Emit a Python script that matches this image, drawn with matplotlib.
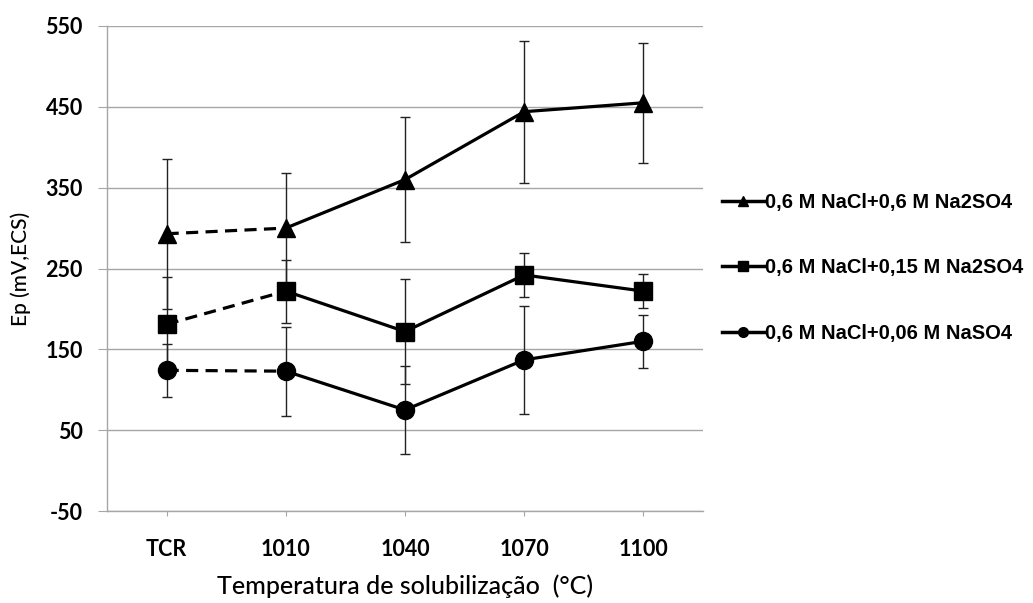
import matplotlib
matplotlib.use('Agg')
import matplotlib.pyplot as plt
from matplotlib.lines import Line2D

plt.rcParams['axes.unicode_minus'] = False

# categorias (temperatura de solubilizacao)
categorias = ['TCR', '1010', '1040', '1070', '1100']

# 0,6 M NaCl+0,6 M Na2SO4
ep_tri = [293, 300, 360, 444, 455]
err_tri = [93, 68, 77, 88, 74]

# 0,6 M NaCl+0,15 M Na2SO4
ep_sq = [181, 222, 172, 242, 222]
err_sq = [59, 39, 65, 27, 21]

# 0,6 M NaCl+0,06 M NaSO4
ep_circ = [124, 123, 75, 137, 160]
err_circ = [33, 55, 55, 67, 33]

nomes = ['0,6 M NaCl+0,6 M Na2SO4', '0,6 M NaCl+0,15 M Na2SO4', '0,6 M NaCl+0,06 M NaSO4']
marcadores = ['^', 's', 'o']

fig = plt.figure(figsize=(10.33, 6.03), dpi=100)
ax = fig.add_axes([107/1033, 1 - 511/603, (703 - 107)/1033, (511 - 26)/603])

x = list(range(len(categorias)))
series = [(ep_tri, err_tri), (ep_sq, err_sq), (ep_circ, err_circ)]

for (ep, err), mk in zip(series, marcadores):
    ax.errorbar(x, ep, yerr=err, fmt='none', ecolor='#222222', elinewidth=1.0,
                capsize=3.6, capthick=1.0, zorder=2)
    # TCR -> 1010 tracejado
    ax.plot(x[:2], ep[:2], color='black', lw=2.3, ls=(0, (3.8, 2.3)), zorder=3)
    ax.plot(x[1:], ep[1:], color='black', lw=2.3, zorder=3)
    ax.plot(x, ep, ls='none', marker=mk, color='black', markersize=13, zorder=4)

ax.set_xlim(-0.5, 4.5)
ax.set_ylim(-50, 550)
ax.set_yticks([-50, 50, 150, 250, 350, 450, 550])
ax.set_xticks(x)
ax.set_xticklabels(categorias)

ax.grid(axis='y', color='#a6a6a6', lw=1.0)
ax.set_axisbelow(True)
for s in ['top', 'right']:
    ax.spines[s].set_visible(False)
for s in ['left', 'bottom']:
    ax.spines[s].set_color('#a6a6a6')
    ax.spines[s].set_linewidth(1.0)

ax.tick_params(axis='y', length=6.5, color='#a6a6a6', pad=11)
ax.tick_params(axis='x', length=3.5, color='#a6a6a6', pad=17)
for lab in ax.get_xticklabels() + ax.get_yticklabels():
    lab.set_family('Lato')
    lab.set_fontweight('bold')
    lab.set_fontsize(15.5)

ax.set_xlabel('Temperatura de solubilização  (°C)', family='Lato', fontsize=18,
              fontweight='medium', labelpad=10)
ax.set_ylabel('Ep (mV,ECS)', family='Lato', fontsize=15, fontweight='medium', labelpad=10)

handles = [Line2D([], [], color='black', lw=2.5, marker=m, markersize=7) for m in marcadores]
fig.legend(handles, nomes, loc='center left', bbox_to_anchor=(722/1033, 1 - 268/603),
           frameon=False, borderpad=0, borderaxespad=0, handlelength=2.1,
           handletextpad=0.05, labelspacing=2.3,
           prop={'family': 'Liberation Sans', 'weight': 'bold', 'size': 14.5})

fig.savefig('out.png', dpi=100)
